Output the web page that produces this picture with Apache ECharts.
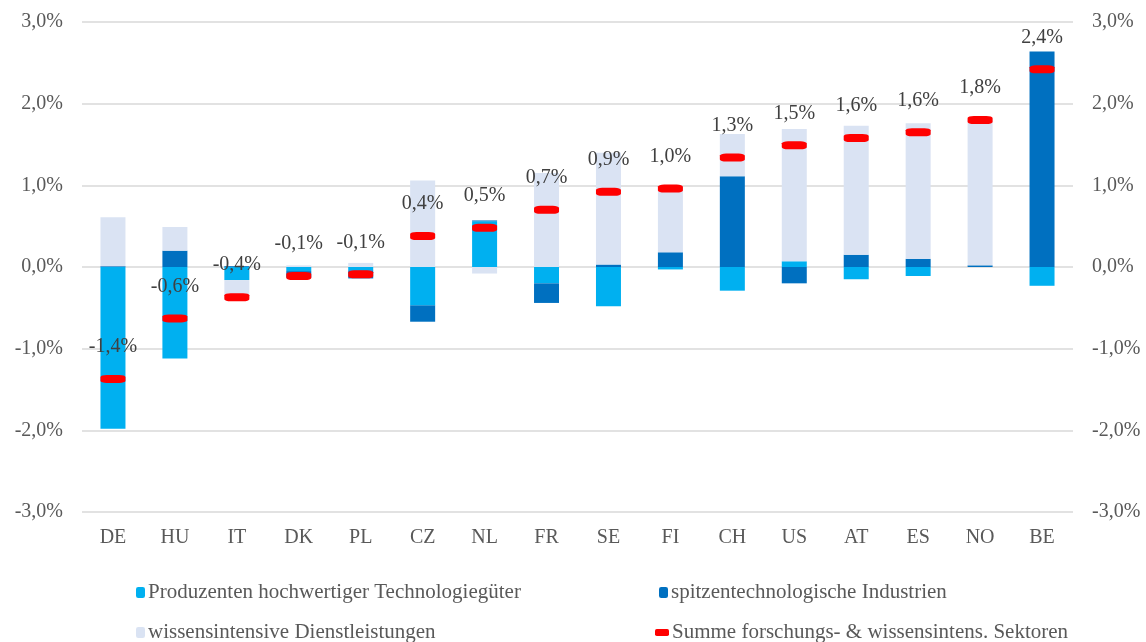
<!DOCTYPE html>
<html>
<head>
<meta charset="utf-8">
<script src="https://cdn.jsdelivr.net/npm/echarts@6/dist/echarts.min.js"></script>
<style>
  html, body { margin: 0; padding: 0; background: #fff; }
  #main { width: 1146px; height: 642px; }
</style>
</head>
<body>
<div id="main"></div>
<script>
// Länder
var countries = ['DE', 'HU', 'IT', 'DK', 'PL', 'CZ', 'NL', 'FR', 'SE', 'FI', 'CH', 'US', 'AT', 'ES', 'NO', 'BE']

// Beiträge in Prozentpunkten
var produzenten = [-1.98, -1.12, -0.16, -0.05, -0.04, -0.47, 0.56, -0.20, -0.48, -0.03, -0.29, 0.07, -0.15, -0.11, 0.00, -0.23]
var spitzentech = [0.01, 0.20, 0.01, -0.08, -0.10, -0.20, 0.01, -0.24, 0.03, 0.18, 1.11, -0.20, 0.15, 0.10, 0.02, 2.64]
var dienstleistungen = [0.60, 0.29, -0.22, 0.02, 0.05, 1.06, -0.08, 1.15, 1.37, 0.81, 0.52, 1.62, 1.58, 1.66, 1.79, 0.00]
var summe = [-1.37, -0.63, -0.37, -0.11, -0.09, 0.38, 0.48, 0.70, 0.92, 0.96, 1.34, 1.49, 1.58, 1.65, 1.80, 2.42]

var yTicks = [-3, -2, -1, 0, 1, 2, 3]

var names = [
  'Produzenten hochwertiger Technologiegüter',
  'spitzentechnologische Industrien',
  'wissensintensive Dienstleistungen',
  'Summe forschungs- & wissensintens. Sektoren'
]

var fontFamily = '"Liberation Serif", "Times New Roman", serif'
var textColor = '#595959'

function pct(v) {
  return v.toFixed(1).replace('.', ',') + '%'
}

function yAxisCfg(pos) {
  return {
    type: 'value',
    position: pos,
    min: yTicks[0],
    max: yTicks[yTicks.length - 1],
    interval: 1,
    axisLine: { show: false },
    axisTick: { show: false },
    axisLabel: {
      formatter: pct,
      fontFamily: fontFamily,
      fontSize: 20,
      color: textColor,
      margin: 19
    },
    splitLine: { show: pos === 'left', lineStyle: { color: '#d9d9d9', width: 1.5 } }
  }
}

function legendCfg(name, left, top, w, h) {
  return {
    data: [name],
    left: left,
    top: top,
    itemWidth: w,
    itemHeight: h,
    padding: 0,
    selectedMode: false,
    textStyle: { fontFamily: fontFamily, fontSize: 21, color: textColor, padding: [0, 0, 0, -2] }
  }
}

var myChart = echarts.init(document.getElementById('main'))

var option = {
  animation: false,
  backgroundColor: '#ffffff',
  grid: { left: 82, right: 73, top: 22, bottom: 130 },
  legend: [
    legendCfg(names[0], 136, 582, 9, 11),
    legendCfg(names[1], 659, 582, 9, 11),
    legendCfg(names[2], 136, 622, 9, 11),
    legendCfg(names[3], 655, 622, 14, 7)
  ],
  xAxis: {
    type: 'category',
    data: countries,
    axisLine: { show: false, onZero: false },
    axisTick: { show: false },
    axisLabel: { fontFamily: fontFamily, fontSize: 20, color: textColor, margin: 16 }
  },
  yAxis: [yAxisCfg('left'), yAxisCfg('right')],
  series: [
    {
      name: names[0], type: 'bar', stack: 'sektoren', barWidth: 25,
      itemStyle: { color: '#00b0f0' },
      data: produzenten
    },
    {
      name: names[1], type: 'bar', stack: 'sektoren', barWidth: 25,
      itemStyle: { color: '#0070c0' },
      data: spitzentech
    },
    {
      name: names[2], type: 'bar', stack: 'sektoren', barWidth: 25,
      itemStyle: { color: '#dae3f3' },
      data: dienstleistungen
    },
    {
      name: names[3], type: 'scatter',
      symbol: 'roundRect', symbolSize: [25, 8],
      itemStyle: { color: '#ff0000', opacity: 1 },
      z: 5,
      label: {
        show: true,
        position: 'top',
        distance: 18,
        formatter: function(p) { return pct(p.value) },
        fontFamily: fontFamily,
        fontSize: 20,
        color: '#404040'
      },
      data: summe
    }
  ]
}

myChart.setOption(option)
</script>
</body>
</html>
